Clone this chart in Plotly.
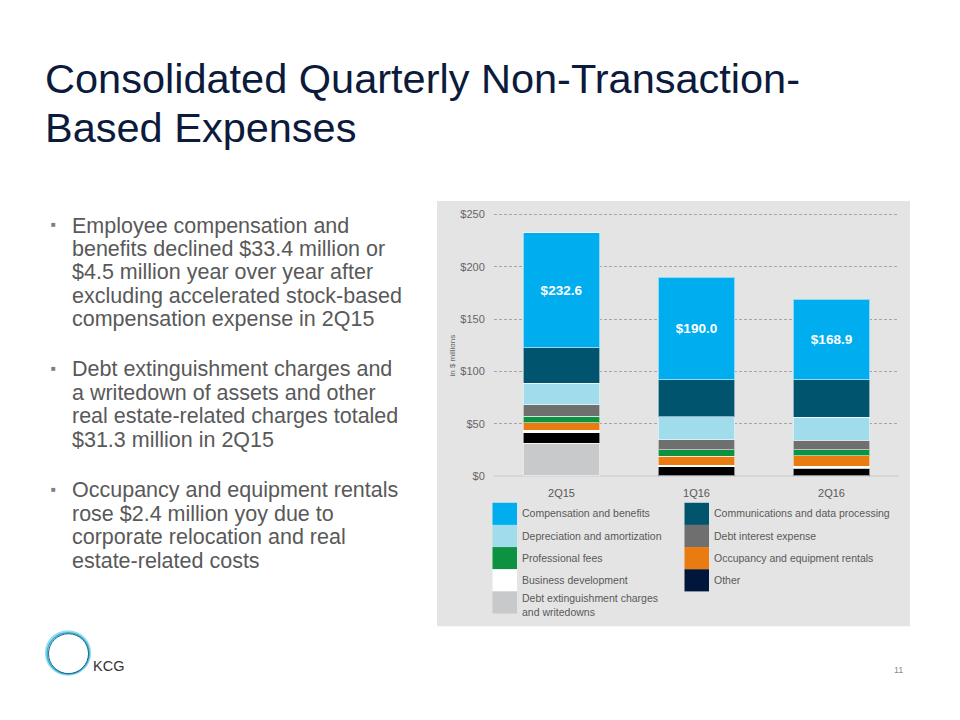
import plotly.graph_objects as go

W, H = 960, 720

# ---------------- data ----------------
quarters = ["2Q15", "1Q16", "2Q16"]
totals = [232.6, 190.0, 168.9]

# stacked bottom -> top
debt_ext = [31.3, 0.0, 0.0]
other = [9.8, 8.8, 7.6]
biz_dev = [2.6, 1.3, 1.8]
occupancy = [7.4, 8.7, 9.8]
prof_fees = [6.1, 6.2, 5.7]
debt_interest = [11.0, 9.5, 9.1]
dep_amort = [20.4, 22.0, 22.2]
communications = [34.0, 35.7, 36.0]
compensation = [110.0, 97.8, 76.7]

series_values = [debt_ext, other, biz_dev, occupancy, prof_fees,
                 debt_interest, dep_amort, communications, compensation]
series_names = ["Debt extinguishment charges<br>and writedowns", "Other",
                "Business development", "Occupancy and equipment rentals",
                "Professional fees", "Debt interest expense",
                "Depreciation and amortization",
                "Communications and data processing",
                "Compensation and benefits"]
bar_colors = ["#c8c9cb", "#000000", "#ffffff", "#e97b10", "#0c9240",
              "#6f6f6f", "#a0dcec", "#00546e", "#00aeef"]
swatch_colors = ["#c8c9cb", "#00163a", "#ffffff", "#e97b10", "#0c9240",
                 "#6f6f6f", "#a0dcec", "#00546e", "#00aeef"]

y_ticks = [0, 50, 100, 150, 200, 250]
y_tick_text = ["$0", "$50", "$100", "$150", "$200", "$250"]

title_lines = ["Consolidated Quarterly Non-Transaction-", "Based Expenses"]
bullets = [
    ["Employee compensation and", "benefits declined $33.4 million or",
     "$4.5 million year over year after", "excluding accelerated stock-based",
     "compensation expense in 2Q15"],
    ["Debt extinguishment charges and", "a writedown of assets and other",
     "real estate-related charges totaled", "$31.3 million in 2Q15"],
    ["Occupancy and equipment rentals", "rose $2.4 million yoy due to",
     "corporate relocation and real", "estate-related costs"],
]

FONT = "Liberation Sans, Arial, sans-serif"


def px(x):
    return x / W


def py(y):
    return 1 - y / H


fig = go.Figure()
for vals, name, col in zip(series_values, series_names, bar_colors):
    is_top = name == "Compensation and benefits"
    fig.add_trace(go.Bar(
        x=quarters, y=vals, name=name.replace("<br>", " "),
        marker=dict(color=col, line=dict(color="rgba(255,255,255,0.55)", width=1)),
        text=[f"${t:.1f}" for t in totals] if is_top else None,
        textposition="inside" if is_top else "none",
        insidetextanchor="middle",
        textangle=0,
        textfont=dict(color="white", size=13.5, family=FONT, weight="bold"),
        showlegend=False,
        hoverinfo="skip",
    ))

shapes = []
annotations = []

# chart panel background
shapes.append(dict(type="rect", xref="paper", yref="paper",
                   x0=px(437), x1=px(910), y0=py(631), y1=py(199),
                   fillcolor="#e4e4e4", line=dict(width=0), layer="below"))

# custom two-column legend (row-major, reverse of stack order)
leg_order = list(range(len(series_names)))[::-1]
col_sw_x = [492.5, 684.5]
col_tx_x = [519.5, 711.5]
row_top = 505.5
row_h = 22.5
sw_w = 24.5
for i, idx in enumerate(leg_order):
    r, c = divmod(i, 2)
    y0 = row_top + r * row_h
    shapes.append(dict(type="rect", xref="paper", yref="paper",
                       x0=px(col_sw_x[c]), x1=px(col_sw_x[c] + sw_w),
                       y0=py(y0 + row_h), y1=py(y0),
                       fillcolor=swatch_colors[idx], line=dict(width=0)))
    two = "<br>" in series_names[idx]
    annotations.append(dict(
        xref="paper", yref="paper", x=px(col_tx_x[c]),
        y=py(y0 + (13.5 if two else row_h / 2 - 0.5)),
        text=series_names[idx], showarrow=False, xanchor="left", yanchor="middle",
        align="left", font=dict(family=FONT, size=10.5, color="#595959")))

# y axis title
annotations.append(dict(xref="paper", yref="paper", x=px(453), y=py(356),
                        text="in $ millions", textangle=-90, showarrow=False,
                        font=dict(family=FONT, size=8, color="#666666")))

# title
title_y = [75, 124]
for i, line in enumerate(title_lines):
    annotations.append(dict(xref="paper", yref="paper", x=px(43), y=py(title_y[i]),
                            text=line, showarrow=False, xanchor="left", yanchor="middle",
                            font=dict(family=FONT, size=41.5, color="#0c1a3c")))

# bullets
starts = [224, 370, 493]
for b, lines in enumerate(bullets):
    for j, line in enumerate(lines):
        yy = starts[b] + 23.8 * j
        annotations.append(dict(xref="paper", yref="paper", x=px(69.5), y=py(yy),
                                text=line, showarrow=False, xanchor="left",
                                yanchor="middle",
                                font=dict(family=FONT, size=21.5, color="#595959")))
    annotations.append(dict(xref="paper", yref="paper", x=px(53), y=py(starts[b] - 1),
                            text="■", showarrow=False, xanchor="center", yanchor="middle",
                            font=dict(family=FONT, size=8, color="#7f7f7f")))

# logo
ring_specs = [((46, 636, 90, 680), "#9adcef", 2.2),
              ((47.2, 637.5, 89.2, 679.5), "#35b2d6", 1.4),
              ((48.5, 638.5, 88.5, 679.0), "#1d6480", 1.0)]
for (x0, y0, x1, y1), col, wdt in ring_specs:
    shapes.append(dict(type="circle", xref="paper", yref="paper",
                       x0=px(x0), x1=px(x1), y0=py(y1), y1=py(y0),
                       line=dict(color=col, width=wdt)))
annotations.append(dict(xref="paper", yref="paper", x=px(91), y=py(671),
                        text="KCG", showarrow=False, xanchor="left", yanchor="middle",
                        font=dict(family=FONT, size=14.5, color="#333333")))

# page number
annotations.append(dict(xref="paper", yref="paper", x=px(898), y=py(675),
                        text="11", showarrow=False, xanchor="center", yanchor="middle",
                        font=dict(family=FONT, size=9, color="#8c8c8c")))

y_top = 251.0
fig.update_layout(
    width=W, height=H,
    margin=dict(l=0, r=0, t=0, b=0),
    paper_bgcolor="white", plot_bgcolor="rgba(0,0,0,0)",
    barmode="stack", bargap=0.43,
    showlegend=False,
    shapes=shapes, annotations=annotations,
    font=dict(family=FONT),
    xaxis=dict(domain=[px(494), px(899)], showgrid=False, showline=False,
               zeroline=False, ticks="outside", ticklen=7, tickcolor="rgba(0,0,0,0)",
               fixedrange=True,
               tickfont=dict(family=FONT, size=11, color="#595959")),
    yaxis=dict(domain=[py(478.3), py(478.3 - y_top * 265.6 / 250)], range=[0, y_top],
               tickmode="array", tickvals=y_ticks, ticktext=y_tick_text,
               showgrid=True, gridcolor="#a6a6a6", griddash="3px,2px", gridwidth=1,
               zeroline=True, zerolinecolor="#d6d6d6", zerolinewidth=2,
               showline=False, ticks="outside", ticklen=6, tickcolor="rgba(0,0,0,0)",
               fixedrange=True,
               tickfont=dict(family=FONT, size=11, color="#666666")),
)

fig.write_html("out.html", config={"displayModeBar": False},
               post_script="document.body.style.margin='0';document.body.style.padding='0';")
